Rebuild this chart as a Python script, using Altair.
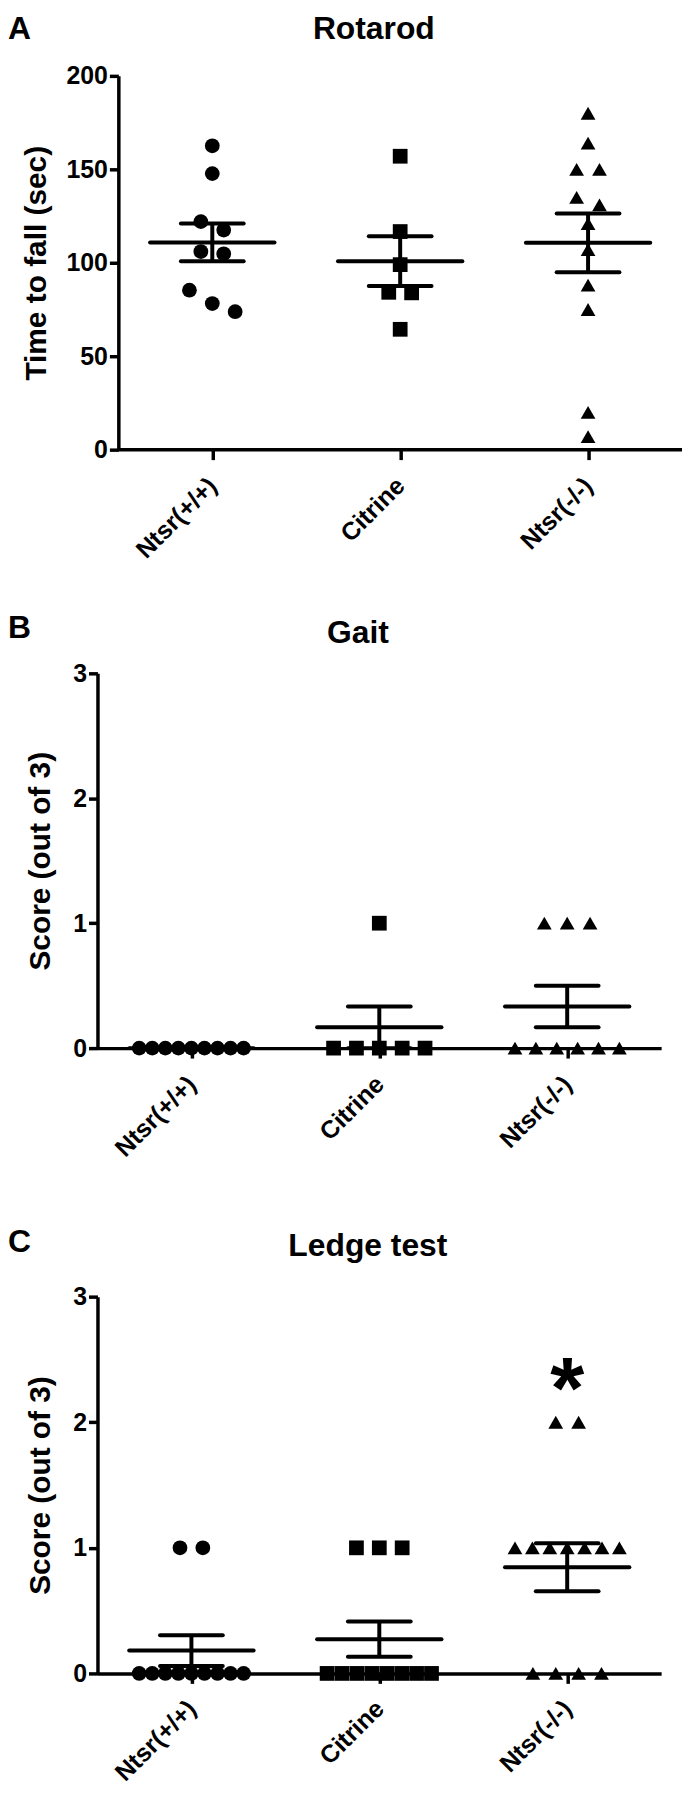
import altair as alt
import pandas as pd

# ---------------- data ----------------
groups = ["Ntsr(+/+)", "Citrine", "Ntsr(-/-)"]
shapes = ["circle", "square", "triangle-up"]

rotarod_wt = [162.6, 147.7, 122.0, 117.5, 106.0, 104.8, 85.3, 78.2, 73.8]
rotarod_cit = [157.0, 116.7, 99.0, 84.2, 83.9, 64.4]
rotarod_ko = [180.0, 164.0, 150.0, 150.0, 135.0, 131.0, 121.0, 107.0, 88.0, 75.0, 20.0, 7.0]

gait_wt = [0, 0, 0, 0, 0, 0, 0, 0, 0]
gait_cit = [1, 0, 0, 0, 0, 0]
gait_ko = [1, 1, 1, 0, 0, 0, 0, 0, 0]

ledge_wt = [1, 1, 0, 0, 0, 0, 0, 0, 0, 0, 0]
ledge_cit = [1, 1, 1, 0, 0, 0, 0, 0, 0, 0, 0]
ledge_ko = [2, 2, 1, 1, 1, 1, 1, 1, 1, 0, 0, 0, 0]

rotarod_ticks = [0, 50, 100, 150, 200]
score_ticks = [0, 1, 2, 3]
sig_group = 2  # Ntsr(-/-) marked with * in ledge test

FONT = "Liberation Sans"
STEP = 189.0  # pixels per group on the x axis


def swarm(vals, px_per_unit, thresh=15.0, max_span=105.0, gap=23.0):
    """Spread points with close values side by side (scatter 'column' layout)."""
    order = sorted(range(len(vals)), key=lambda i: -vals[i])
    clusters, prev = [], None
    for i in order:
        if prev is not None and (vals[prev] - vals[i]) * px_per_unit < thresh:
            clusters[-1].append(i)
        else:
            clusters.append([i])
        prev = i
    off = [0.0] * len(vals)
    for cl in clusters:
        k = len(cl)
        sp = min(gap, max_span / (k - 1)) if k > 1 else 0.0
        for j, i in enumerate(cl):
            off[i] = (j - (k - 1) / 2) * sp / STEP
    return off


def table(series, px_per_unit):
    rows = []
    for gi, (g, vals) in enumerate(zip(groups, series)):
        for v, o in zip(vals, swarm(vals, px_per_unit)):
            rows.append({"group": g, "idx": gi, "value": v, "xpos": gi + o})
    return pd.DataFrame(rows)


label_expr = "[" + ",".join("'%s'" % g for g in groups) + "][datum.value]"


def panel(df, letter, title, ytitle, ymax, yticks, H, T, B, shift,
          letter_y, title_x, title_y, title_pad, label_pad=22, star=False):
    L, R = 90, 590
    width = 3 * STEP + shift
    xs = alt.Scale(domain=[-0.5 - shift / STEP, 2.5], nice=False, zero=False)
    ys = alt.Scale(domain=[0, ymax], nice=False, zero=True)
    xa = alt.Axis(values=[0, 1, 2], labelExpr=label_expr, title=None,
                  labelAngle=-45, labelAlign="right", labelBaseline="middle",
                  labelPadding=label_pad, labelFont=FONT, labelFontSize=25,
                  labelFontWeight="bold", labelColor="black", labelFlush=False,
                  labelOverlap=False, tickColor="black", tickWidth=3.5, tickSize=10,
                  domain=(shift == 0), domainColor="black", domainWidth=3.5, grid=False)
    ya = alt.Axis(values=yticks, title=ytitle, format="d", titleFont=FONT,
                  titleFontSize=30, titleFontWeight="bold", titleColor="black",
                  titlePadding=title_pad, labelFont=FONT, labelFontSize=25,
                  labelFontWeight="bold", labelColor="black", labelPadding=2,
                  labelFlush=False, tickColor="black", tickWidth=3.5, tickSize=9,
                  domainColor="black", domainWidth=3.5, grid=False, offset=-shift)

    base = alt.Chart(df)
    pts = base.mark_point(filled=True, opacity=1, size=220).encode(
        x=alt.X("xpos:Q", scale=xs, axis=xa),
        y=alt.Y("value:Q", scale=ys, axis=ya),
        shape=alt.Shape("group:N", scale=alt.Scale(domain=groups, range=shapes), legend=None),
        color=alt.value("black"),
    )
    stats = base.transform_aggregate(
        m="mean(value)", se="stderr(value)", groupby=["idx"]
    ).transform_calculate(
        lo="datum.m - datum.se", hi="datum.m + datum.se",
        ml="datum.idx - 0.331", mr="datum.idx + 0.331",
        cl="datum.idx - 0.167", cr="datum.idx + 0.167",
    )
    rk = dict(strokeWidth=4, strokeCap="round", color="black")
    mean_rule = stats.mark_rule(**rk).encode(
        x=alt.X("ml:Q", scale=xs, axis=xa), x2="mr:Q", y=alt.Y("m:Q", scale=ys, axis=ya))
    hi_rule = stats.mark_rule(**rk).encode(
        x=alt.X("cl:Q", scale=xs, axis=xa), x2="cr:Q", y=alt.Y("hi:Q", scale=ys, axis=ya))
    lo_rule = stats.mark_rule(**rk).encode(
        x=alt.X("cl:Q", scale=xs, axis=xa), x2="cr:Q", y=alt.Y("lo:Q", scale=ys, axis=ya))
    vert = stats.mark_rule(strokeWidth=4, color="black").encode(
        x=alt.X("idx:Q", scale=xs, axis=xa), y=alt.Y("lo:Q", scale=ys, axis=ya), y2="hi:Q")

    one = pd.DataFrame({"t": [letter], "h": [title]})
    frame = alt.Chart(one).mark_rect(opacity=0).encode(
        x=alt.value(-L), x2=alt.value(R), y=alt.value(-T), y2=alt.value(H + B))
    let = alt.Chart(one).mark_text(font=FONT, fontSize=32, fontWeight="bold",
                                   align="left", baseline="top", color="black").encode(
        x=alt.value(-L), y=alt.value(letter_y), text="t:N")
    ttl = alt.Chart(one).mark_text(font=FONT, fontSize=32, fontWeight="bold",
                                   align="center", baseline="top", color="black").encode(
        x=alt.value(title_x), y=alt.value(title_y), text="h:N")

    layers = [frame, pts, mean_rule, hi_rule, lo_rule, vert, let, ttl]
    if shift:
        # x-axis baseline drawn from the y axis to the right end
        layers.append(alt.Chart(one).mark_rule(strokeWidth=3.5, color="black").encode(
            x=alt.XDatum(-0.5, scale=xs, axis=xa), x2=alt.X2Datum(2.5),
            y=alt.YDatum(0, scale=ys, axis=ya)))
    if star:
        top = df[df["idx"] == sig_group]["value"].max()
        sd = pd.DataFrame({"idx": [sig_group], "value": [top + 0.35], "s": ["*"]})
        layers.append(alt.Chart(sd).mark_text(font=FONT, fontSize=88, fontWeight="bold",
                                              baseline="middle", dy=14, color="black").encode(
            x=alt.X("idx:Q", scale=xs, axis=xa), y=alt.Y("value:Q", scale=ys, axis=ya),
            text="s:N"))
    return alt.layer(*layers).properties(width=width, height=H)


dfA = table([rotarod_wt, rotarod_cit, rotarod_ko], 376 / 200)
dfB = table([gait_wt, gait_cit, gait_ko], 377 / 3)
dfC = table([ledge_wt, ledge_cit, ledge_ko], 379 / 3)

A = panel(dfA, "A", "Rotarod", "Time to fall (sec)", 200, rotarod_ticks,
          H=376, T=62, B=147, shift=21, letter_y=-62, title_x=278, title_y=-62,
          title_pad=15)
Bp = panel(dfB, "B", "Gait", "Score (out of 3)", 3, score_ticks,
           H=377, T=78, B=150, shift=0, letter_y=-61, title_x=262, title_y=-56, title_pad=17)
C = panel(dfC, "C", "Ledge test", "Score (out of 3)", 3, score_ticks,
          H=379, T=100, B=100, shift=0, letter_y=-70, title_x=272, title_y=-66, title_pad=17,
          label_pad=21, star=True)

chart = alt.vconcat(A, Bp, C, spacing=0).properties(
    padding={"left": 0, "top": 0, "right": 0, "bottom": 0}
).configure(background="white", view=alt.ViewConfig(stroke=None))

chart.save("out.html", embed_options={"renderer": "svg", "actions": False})
